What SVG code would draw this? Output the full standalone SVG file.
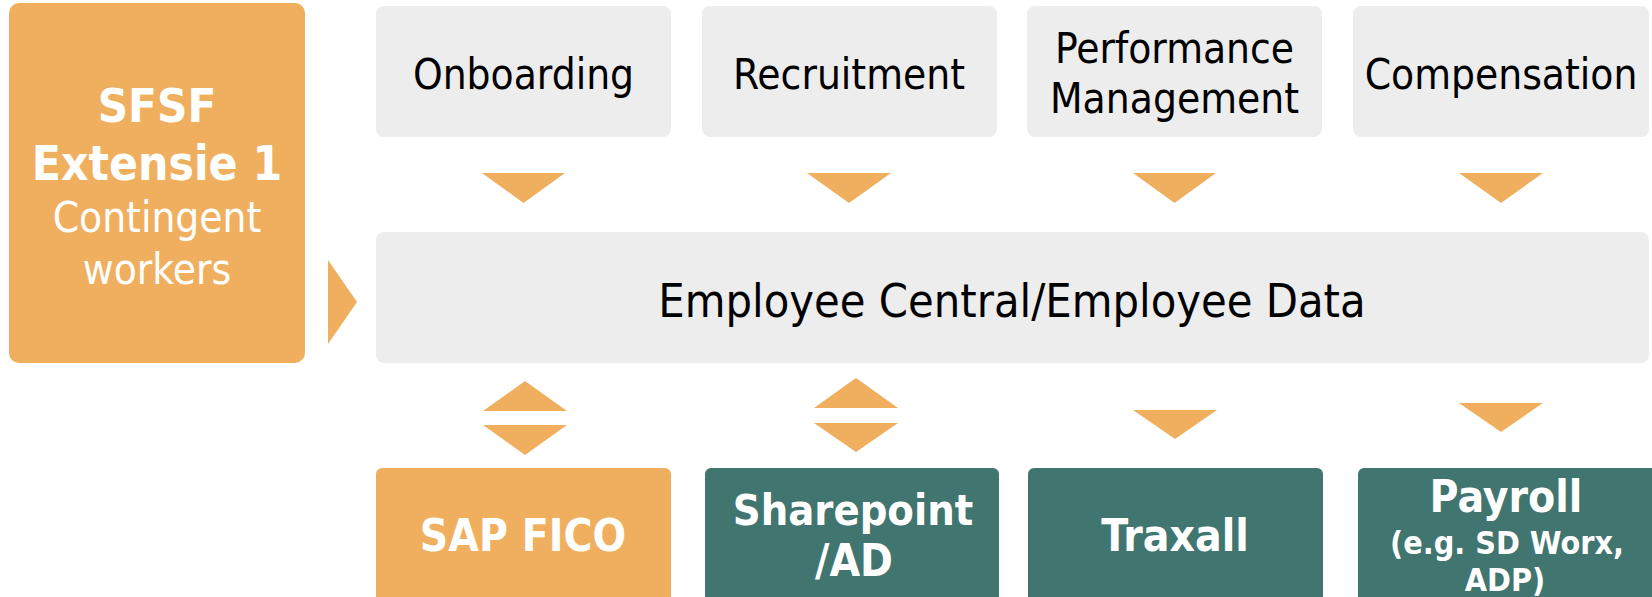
<svg xmlns="http://www.w3.org/2000/svg" width="1652" height="597" viewBox="0 0 1652 597">
<style>
.gray{fill:#EDEDED}
.orange{fill:#F0AF5E}
.teal{fill:#41756F}
.arrow{fill:#F0AF5E}
text{font-family:"DejaVu Sans Condensed","DejaVu Sans",sans-serif;font-stretch:condensed;text-anchor:middle}
.dark{fill:#000000;font-size:42px}
.big{fill:#000000;font-size:46.5px}
.wb{fill:#FFFFFF;font-weight:bold;font-size:44px}
.wr{fill:#FFFFFF;font-size:42px}
.ws{fill:#FFFFFF;font-weight:bold;font-size:32px}
</style>
<rect width="1652" height="597" fill="#FFFFFF"/>
<g id="sfsf">
<rect class="orange" x="9" y="3" width="296" height="360" rx="10"/>
<text class="wb" x="157" y="122" style="font-size:47px">SFSF</text>
<text class="wb" x="157" y="180" style="font-size:47.5px">Extensie 1</text>
<text class="wr" x="157" y="232">Contingent</text>
<text class="wr" x="157" y="284">workers</text>
</g>
<g id="onboarding">
<rect class="gray" x="376" y="6" width="295" height="131" rx="8"/>
<text class="dark" x="523.5" y="89">Onboarding</text>
</g>
<g id="recruitment">
<rect class="gray" x="702" y="6" width="295" height="131" rx="8"/>
<text class="dark" x="849" y="89">Recruitment</text>
</g>
<g id="performance">
<rect class="gray" x="1027" y="6" width="295" height="131" rx="8"/>
<text class="dark" x="1174.5" y="63">Performance</text>
<text class="dark" x="1174.5" y="113">Management</text>
</g>
<g id="compensation">
<rect class="gray" x="1353" y="6" width="296" height="131" rx="8"/>
<text class="dark" x="1501" y="89">Compensation</text>
</g>
<g id="employee-central">
<rect class="gray" x="376" y="232" width="1273" height="131" rx="8"/>
<text class="big" x="1012" y="317">Employee Central/Employee Data</text>
</g>
<g id="sap-fico">
<rect class="orange" x="376" y="468" width="295" height="140" rx="6"/>
<text class="wb" x="523" y="551">SAP FICO</text>
</g>
<g id="sharepoint">
<rect class="teal" x="705" y="468" width="294" height="140" rx="6"/>
<text class="wb" x="853" y="525" style="font-size:43px">Sharepoint</text>
<text class="wb" x="854" y="576">/AD</text>
</g>
<g id="traxall">
<rect class="teal" x="1028" y="468" width="295" height="140" rx="6"/>
<text class="wb" x="1175" y="551">Traxall</text>
</g>
<g id="payroll">
<rect class="teal" x="1358" y="468" width="300" height="140" rx="6"/>
<text class="wb" x="1506" y="512">Payroll</text>
<text class="ws" x="1507" y="554">(e.g. SD Worx,</text>
<text class="ws" x="1505" y="591">ADP)</text>
</g>
<g id="connectors">
<polygon class="arrow" points="328,260 357,302 328,344"/>
<polygon class="arrow" points="482,173 565,173 523.5,203"/>
<polygon class="arrow" points="807,173 891,173 849,203"/>
<polygon class="arrow" points="1133,173 1216,173 1174.5,203"/>
<polygon class="arrow" points="1459,173 1543,173 1501,203"/>
<polygon class="arrow" points="483,411 567,411 525,381"/>
<polygon class="arrow" points="483,425 567,425 525,455"/>
<polygon class="arrow" points="814,408 898,408 856,378"/>
<polygon class="arrow" points="814,423 898,423 856,452"/>
<polygon class="arrow" points="1133,410 1217,410 1175,439"/>
<polygon class="arrow" points="1459,403 1543,403 1501,432"/>
</g>
</svg>
